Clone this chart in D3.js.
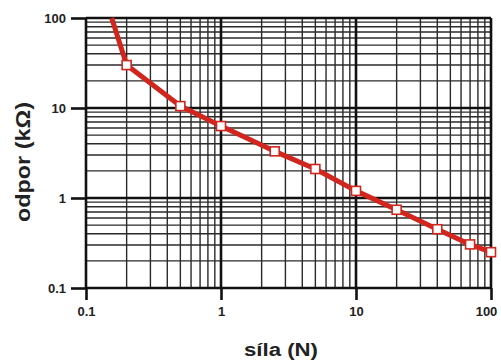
<!DOCTYPE html>
<html>
<head>
<meta charset="utf-8">
<script src="https://cdn.jsdelivr.net/npm/d3@7"></script>
<style>
  body { margin: 0; background: #fff; }
  text { font-family: "Liberation Sans", Arial, sans-serif; font-weight: bold; }
</style>
</head>
<body>
<div id="chart"></div>
<script>
// data
const force = [0.155, 0.2, 0.5, 1, 2.5, 5, 10, 20, 40, 70, 100];   // N
const resist = [100, 30, 10.5, 6.3, 3.3, 2.1, 1.2, 0.74, 0.45, 0.305, 0.25]; // kOhm
const xTicks = [0.1, 1, 10, 100];
const yTicks = [0.1, 1, 10, 100];
const xLabel = "síla (N)";
const yLabel = "odpor (kΩ)";

const W = 501, H = 361;
const svg = d3.select("#chart").append("svg").attr("width", W).attr("height", H);

const x = d3.scaleLog().domain([0.1, 100]).range([86, 491]);
const y = d3.scaleLog().domain([0.1, 100]).range([288, 18]);

// minor grid values 2..9 in each decade
const minors = [];
for (let p = -1; p < 2; p++) {
    for (let m = 2; m < 10; m++) minors.push(m * Math.pow(10, p));
}

const grid = svg.append("g");
grid.selectAll(".vmin").data(minors).join("line")
    .attr("x1", d => x(d)).attr("x2", d => x(d))
    .attr("y1", y(0.1)).attr("y2", y(100))
    .attr("stroke", "#2a2a2a").attr("stroke-width", 1.4);
grid.selectAll(".hmin").data(minors).join("line")
    .attr("y1", d => y(d)).attr("y2", d => y(d))
    .attr("x1", x(0.1)).attr("x2", x(100))
    .attr("stroke", "#2a2a2a").attr("stroke-width", 1.4);
grid.selectAll(".vmaj").data(xTicks).join("line")
    .attr("x1", d => x(d)).attr("x2", d => x(d))
    .attr("y1", y(0.1)).attr("y2", y(100))
    .attr("stroke", "#111").attr("stroke-width", 2.6);
grid.selectAll(".hmaj").data(yTicks).join("line")
    .attr("y1", d => y(d)).attr("y2", d => y(d))
    .attr("x1", x(0.1)).attr("x2", x(100))
    .attr("stroke", "#111").attr("stroke-width", 2.6);

// axes
const xAxis = d3.axisBottom(x).tickValues(xTicks).tickFormat(d3.format("")).tickSize(12).tickSizeOuter(0);
const yAxis = d3.axisLeft(y).tickValues(yTicks).tickFormat(d3.format("")).tickSize(15).tickSizeOuter(0);

const gx = svg.append("g").attr("transform", `translate(0,${y(0.1)})`).call(xAxis);
const gy = svg.append("g").attr("transform", `translate(${x(0.1)},0)`).call(yAxis);
[gx, gy].forEach(g => {
    g.select(".domain").remove();
    g.selectAll(".tick line").attr("stroke", "#111").attr("stroke-width", 2.6);
    g.selectAll(".tick text").attr("fill", "#222").attr("font-size", 13);
});
gx.selectAll(".tick text").attr("y", 19).attr("dx", d => d === 100 ? -5 : 0);
gy.selectAll(".tick text").attr("x", -20);

// curve
const line = d3.line().x((d, i) => x(force[i])).y((d, i) => y(resist[i]));
svg.append("path").datum(resist)
    .attr("d", line)
    .attr("fill", "none")
    .attr("stroke", "#d0261e")
    .attr("stroke-width", 5)
    .attr("stroke-linejoin", "round");

// markers (first point is only where the curve leaves the frame)
const pts = force.map((f, i) => ({ f: f, r: resist[i] })).slice(1);
svg.selectAll(".mk").data(pts).join("rect")
    .attr("x", d => x(d.f) - 4.5).attr("y", d => y(d.r) - 4.5)
    .attr("width", 9).attr("height", 9)
    .attr("fill", "#fff").attr("stroke", "#d0261e").attr("stroke-width", 1.6);

// axis titles
svg.append("text")
    .attr("x", 281).attr("y", 356)
    .attr("text-anchor", "middle")
    .attr("font-size", 18).attr("fill", "#222")
    .attr("textLength", 74).attr("lengthAdjust", "spacingAndGlyphs")
    .text(xLabel);
svg.append("text")
    .attr("transform", "translate(30,162) rotate(-90)")
    .attr("text-anchor", "middle")
    .attr("font-size", 20).attr("fill", "#222")
    .attr("textLength", 120).attr("lengthAdjust", "spacingAndGlyphs")
    .text(yLabel);
</script>
</body>
</html>
